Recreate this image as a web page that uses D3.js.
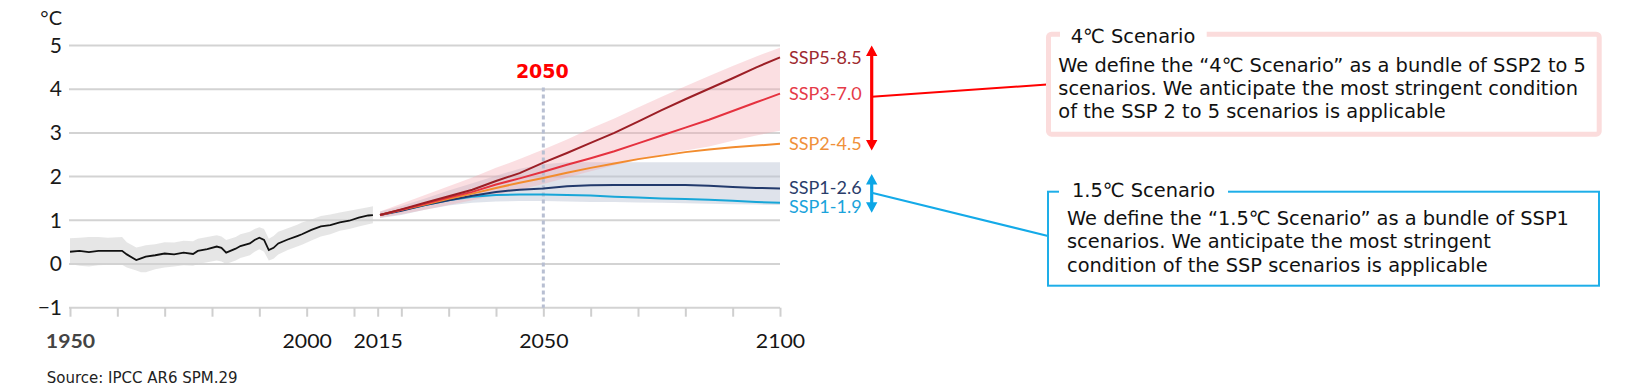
<!DOCTYPE html>
<html>
<head>
<meta charset="utf-8">
<script src="https://cdn.jsdelivr.net/npm/d3@7/dist/d3.min.js"></script>
<style>
  body { margin: 0; background: #fff; }
  svg { display: block; }
</style>
</head>
<body>
<div id="chart"></div>
<script>
// observed record (°C, with grey uncertainty band)
var histYears = [1950, 1952, 1954, 1956, 1958, 1961, 1962, 1964, 1965, 1966, 1968, 1970, 1972, 1974, 1976, 1977, 1979, 1981, 1982, 1983,
                 1985, 1986, 1988, 1989, 1990, 1991, 1992, 1993, 1994, 1996, 1998, 1999, 2001, 2003, 2005, 2007, 2009, 2011, 2013, 2014];
var histMean = [0.28, 0.30, 0.27, 0.30, 0.30, 0.30, 0.22, 0.09, 0.13, 0.17, 0.20, 0.24, 0.22, 0.26, 0.23, 0.30, 0.34, 0.40, 0.37, 0.26,
                0.35, 0.41, 0.47, 0.55, 0.60, 0.55, 0.32, 0.37, 0.47, 0.56, 0.64, 0.68, 0.78, 0.86, 0.89, 0.95, 0.99, 1.06, 1.11, 1.12];
var histLow  = [0.00, -0.04, -0.06, -0.03, -0.02, -0.02, -0.08, -0.15, -0.19, -0.19, -0.12, -0.08, -0.06, -0.03, -0.04, 0.00, 0.04, 0.08, 0.06, 0.00,
                0.08, 0.14, 0.20, 0.28, 0.34, 0.28, 0.08, 0.12, 0.22, 0.32, 0.40, 0.44, 0.54, 0.63, 0.68, 0.76, 0.80, 0.86, 0.91, 0.93];
var histHigh = [0.59, 0.60, 0.62, 0.62, 0.60, 0.62, 0.50, 0.38, 0.40, 0.43, 0.45, 0.50, 0.49, 0.53, 0.52, 0.58, 0.62, 0.66, 0.63, 0.55,
                0.62, 0.68, 0.74, 0.80, 0.84, 0.80, 0.58, 0.64, 0.74, 0.82, 0.90, 0.95, 1.02, 1.10, 1.13, 1.18, 1.22, 1.26, 1.30, 1.32];

// projections
var projYears = [2015.5, 2020, 2025, 2030, 2035, 2040, 2045, 2050, 2055, 2060, 2065, 2070, 2075, 2080, 2085, 2090, 2095, 2100];
var ssp585 = [1.12, 1.25, 1.40, 1.55, 1.70, 1.90, 2.08, 2.32, 2.54, 2.77, 3.00, 3.26, 3.52, 3.77, 4.01, 4.25, 4.50, 4.73];
var ssp370 = [1.12, 1.24, 1.38, 1.52, 1.65, 1.82, 1.96, 2.11, 2.27, 2.42, 2.58, 2.76, 2.94, 3.12, 3.30, 3.50, 3.70, 3.90];
var ssp245 = [1.12, 1.24, 1.36, 1.49, 1.61, 1.74, 1.86, 1.97, 2.09, 2.20, 2.30, 2.40, 2.48, 2.56, 2.62, 2.67, 2.71, 2.75];
var ssp126 = [1.12, 1.22, 1.35, 1.46, 1.56, 1.65, 1.70, 1.73, 1.78, 1.80, 1.81, 1.81, 1.81, 1.81, 1.79, 1.76, 1.74, 1.73];
var ssp119 = [1.12, 1.23, 1.35, 1.46, 1.54, 1.58, 1.59, 1.59, 1.58, 1.57, 1.54, 1.52, 1.50, 1.49, 1.47, 1.45, 1.42, 1.40];

// shaded ranges
var warmLow  = [1.06, 1.14, 1.24, 1.35, 1.46, 1.58, 1.70, 1.83, 1.98, 2.12, 2.26, 2.38, 2.50, 2.60, 2.69, 2.82, 2.94, 3.05];
var warmHigh = [1.20, 1.38, 1.58, 1.78, 1.98, 2.20, 2.40, 2.62, 2.85, 3.10, 3.33, 3.58, 3.83, 4.07, 4.30, 4.53, 4.75, 4.95];
var coolLow  = [1.05, 1.12, 1.24, 1.34, 1.40, 1.43, 1.44, 1.44, 1.43, 1.42, 1.42, 1.41, 1.40, 1.39, 1.38, 1.37, 1.36, 1.35];
var coolHigh = [1.20, 1.33, 1.50, 1.68, 1.85, 2.02, 2.18, 2.28, 2.33, 2.33, 2.33, 2.33, 2.33, 2.33, 2.33, 2.33, 2.33, 2.33];

var seriesNames  = ["SSP5-8.5", "SSP3-7.0", "SSP2-4.5", "SSP1-2.6", "SSP1-1.9"];
var seriesValues = [ssp585, ssp370, ssp245, ssp126, ssp119];
var lineColors   = ["#9c1f26", "#e5323f", "#f28c2e", "#223a6c", "#17a6d8"];
var labelColors  = ["#9e2a30", "#e53a48", "#f0903a", "#2a3d6a", "#1aa3db"];
var labelShift   = [0, 0, 0, -0.5, 4];

var xTicks  = [1950, 1960, 1970, 1980, 1990, 2000, 2010, 2015, 2020, 2030, 2040, 2050, 2060, 2070, 2080, 2090, 2100];
var xLabels = [1950, 2000, 2015, 2050, 2100];
var yTicks  = [-1, 0, 1, 2, 3, 4, 5];

var markYear = 2050;
var warmArrow = [5.0, 2.6];
var coolArrow = [2.06, 1.17];

var warmTitle = "4℃ Scenario";
var warmText = ["We define the “4℃ Scenario” as a bundle of SSP2 to 5",
                "scenarios. We anticipate the most stringent condition",
                "of the SSP 2 to 5 scenarios is applicable"];
var coolTitle = "1.5℃ Scenario";
var coolText = ["We define the “1.5℃ Scenario” as a bundle of SSP1",
                "scenarios. We anticipate the most stringent",
                "condition of the SSP scenarios is applicable"];
var source = "Source: IPCC AR6 SPM.29";

var W = 1637, H = 389;
var svg = d3.select("#chart").append("svg").attr("width", W).attr("height", H);

var x = d3.scaleLinear().domain([1950, 2100]).range([70, 780]);
var y = d3.scaleLinear().domain([-1, 5]).range([307.7, 45.5]);

// grid
svg.append("g").selectAll("line").data(yTicks).join("line")
  .attr("x1", 69).attr("x2", x(2100))
  .attr("y1", function(d) { return y(d); }).attr("y2", function(d) { return y(d); })
  .attr("stroke", "#d3d3d3").attr("stroke-width", 2);

// x axis
var xAxis = svg.append("g")
  .attr("transform", "translate(0," + y(-1) + ")")
  .call(d3.axisBottom(x).tickValues(xTicks).tickSize(9)
    .tickFormat(function(d) { return xLabels.indexOf(d) >= 0 ? d : ""; }));
xAxis.select(".domain").remove();
xAxis.selectAll(".tick line").attr("stroke", "#cfcfcf").attr("stroke-width", 2);
xAxis.selectAll(".tick text")
  .attr("y", 27)
  .attr("font-family", "Lato")
  .attr("font-size", 19)
  .attr("fill", function(d) { return d === 1950 ? "#444" : "#151515"; })
  .attr("font-weight", function(d) { return d === 1950 ? "bold" : "normal"; })
  .attr("transform", "scale(1.12,1)");

// y axis
var yAxis = svg.append("g")
  .attr("transform", "translate(69,0)")
  .call(d3.axisLeft(y).tickValues(yTicks).tickSize(0).tickPadding(7)
    .tickFormat(function(d) { return d < 0 ? "−" + Math.abs(d) : d; }));
yAxis.select(".domain").remove();
yAxis.selectAll(".tick text").attr("font-family", "Lato").attr("font-size", 21).attr("fill", "#1a1a1a");

svg.append("text").attr("x", 62).attr("y", 25).attr("text-anchor", "end")
  .attr("font-family", "Lato").attr("font-size", 20).attr("fill", "#1a1a1a").text("°C");

// bands
var histBand = d3.area()
  .x(function(d, i) { return x(histYears[i]); })
  .y0(function(d, i) { return y(histLow[i]); })
  .y1(function(d, i) { return y(histHigh[i]); });
svg.append("path").datum(histYears).attr("d", histBand).attr("fill", "#d2d2d2").attr("opacity", 0.55);

function projBand(lo, hi) {
  return d3.area()
    .x(function(d, i) { return x(projYears[i]); })
    .y0(function(d, i) { return y(lo[i]); })
    .y1(function(d, i) { return y(hi[i]); })(projYears);
}
svg.append("path").attr("d", projBand(coolLow, coolHigh)).attr("fill", "#b8c1d3").attr("opacity", 0.45);
svg.append("path").attr("d", projBand(warmLow, warmHigh)).attr("fill", "#f3a5ae").attr("opacity", 0.36);

// 2050 marker
svg.append("line")
  .attr("x1", x(markYear)).attr("x2", x(markYear))
  .attr("y1", y(4.04)).attr("y2", y(-1))
  .attr("stroke", "#b8bfd2").attr("stroke-width", 3).attr("stroke-dasharray", "4,3");
svg.append("text").attr("x", x(markYear) - 1).attr("y", 77.7).attr("text-anchor", "middle")
  .attr("font-family", "DejaVu Sans").attr("font-weight", "bold").attr("font-size", 19)
  .attr("fill", "#ff0000").text(markYear);

// lines
var histLine = d3.line()
  .x(function(d, i) { return x(histYears[i]); })
  .y(function(d) { return y(d); });
svg.append("path").datum(histMean).attr("d", histLine)
  .attr("fill", "none").attr("stroke", "#111").attr("stroke-width", 1.8);

var projLine = d3.line()
  .x(function(d, i) { return x(projYears[i]); })
  .y(function(d) { return y(d); });
for (var s = seriesValues.length - 1; s >= 0; s--) {
  svg.append("path").datum(seriesValues[s]).attr("d", projLine)
    .attr("fill", "none").attr("stroke", lineColors[s]).attr("stroke-width", 2);
}

// series labels
svg.append("g").selectAll("text").data(seriesNames).join("text")
  .attr("x", x(2100) + 9)
  .attr("y", function(d, i) { return y(seriesValues[i][seriesValues[i].length - 1]) + labelShift[i]; })
  .attr("dy", "0.36em")
  .attr("font-family", "Lato").attr("font-size", 18)
  .attr("fill", function(d, i) { return labelColors[i]; })
  .text(function(d) { return d; });

// double arrows
var arrowX = 871.7;
function drawArrow(v, color) {
  var top = y(v[0]), bot = y(v[1]), hw = 5.7, hl = 10.5;
  svg.append("line").attr("x1", arrowX).attr("x2", arrowX)
    .attr("y1", top + hl - 1).attr("y2", bot - hl + 1)
    .attr("stroke", color).attr("stroke-width", 3.2);
  svg.append("path")
    .attr("d", "M" + arrowX + "," + top + "L" + (arrowX + hw) + "," + (top + hl) + "L" + (arrowX - hw) + "," + (top + hl) + "Z" +
               "M" + arrowX + "," + bot + "L" + (arrowX + hw) + "," + (bot - hl) + "L" + (arrowX - hw) + "," + (bot - hl) + "Z")
    .attr("fill", color);
}
drawArrow(warmArrow, "#ff0000");
drawArrow(coolArrow, "#0ca6e6");

// connectors
svg.append("line").attr("x1", arrowX).attr("y1", 96.7).attr("x2", 1047).attr("y2", 84.5)
  .attr("stroke", "#ff0000").attr("stroke-width", 2);
svg.append("line").attr("x1", arrowX).attr("y1", 192.7).attr("x2", 1048).attr("y2", 236)
  .attr("stroke", "#14aae8").attr("stroke-width", 2);

// scenario boxes
function box(o) {
  var g = svg.append("g");
  g.append("rect").attr("x", o.x).attr("y", o.y).attr("width", o.w).attr("height", o.h)
    .attr("rx", o.rx).attr("fill", "#fff").attr("stroke", o.stroke).attr("stroke-width", o.sw);
  g.append("rect").attr("x", o.gap[0]).attr("y", o.y - 6).attr("width", o.gap[1] - o.gap[0]).attr("height", 12)
    .attr("fill", "#fff");
  g.append("text").attr("x", o.tx).attr("y", o.ty)
    .attr("font-family", "DejaVu Sans").attr("font-size", 19.4).attr("fill", "#111").text(o.title);
  g.selectAll("text.body").data(o.lines).join("text").attr("class", "body")
    .attr("x", o.bx).attr("y", function(d, i) { return o.by + i * 23.3; })
    .attr("font-family", "DejaVu Sans").attr("font-size", 19.4).attr("fill", "#111")
    .text(function(d) { return d; });
}
box({ x: 1048.5, y: 34.2, w: 550.7, h: 100, rx: 3, stroke: "#fbdcdc", sw: 5,
      gap: [1060, 1206.7], title: warmTitle, tx: 1070.7, ty: 43.3,
      lines: warmText, bx: 1058.3, by: 71.7 });
box({ x: 1048, y: 191.7, w: 551, h: 94, rx: 0, stroke: "#1eaee8", sw: 2,
      gap: [1059, 1228], title: coolTitle, tx: 1072, ty: 197,
      lines: coolText, bx: 1067, by: 225 });

// source
svg.append("text").attr("x", 46.7).attr("y", 383)
  .attr("font-family", "DejaVu Sans").attr("font-size", 15).attr("fill", "#222").text(source);
</script>
</body>
</html>
